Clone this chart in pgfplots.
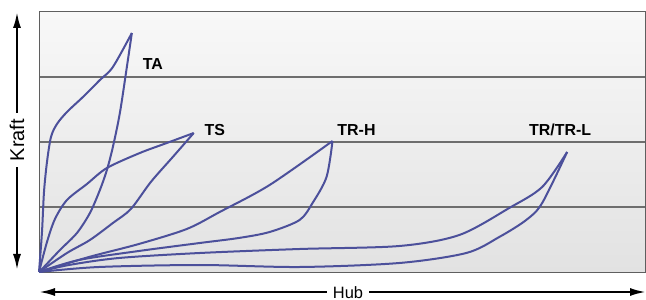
\documentclass[border=0pt]{standalone}
\usepackage{pgfplots}
\pgfplotsset{compat=1.18}
\usepackage{fontspec}
\setmainfont{Liberation Sans}
\usetikzlibrary{arrows.meta,calc}
\definecolor{curve}{RGB}{76,80,155}
\definecolor{gridc}{RGB}{110,110,110}
\definecolor{framec}{RGB}{95,95,95}
\tikzset{cv/.style={draw=curve, solid, line width=2bp, smooth, mark=none}}
\begin{document}
\begin{tikzpicture}
\begin{axis}[name=ax,
  scale only axis, width=606bp, height=260bp,
  xmin=0, xmax=607, ymin=0, ymax=260,
  axis line style={draw=framec, line width=1bp},
  xtick=\empty, ytick={65,130,195}, yticklabels={}, major tick length=0pt,
  ymajorgrids, grid style={draw=gridc, line width=1.2bp},
  axis background/.style={shade, top color={rgb,255:red,248;green,248;blue,248}, bottom color={rgb,255:red,226;green,226;blue,226}},
  clip=false,
]
% TA
\addplot[cv] coordinates {(0,0) (3,40) (5,80) (8,110) (12,135) (18,148) (28,160) (44,175) (61,192) (74,205) (93,239)};
\addplot[cv] coordinates {(0,0) (4,4) (21,22) (38,39) (51,59) (61,82) (68,102) (74,125) (81,159) (88,205) (93,239)};
% TS
\addplot[cv] coordinates {(0,0) (8,30) (16,53) (28,72) (48,88) (68,104) (101,119) (128,129) (155,139)};
\addplot[cv] coordinates {(0,0) (28,19) (51,32) (74,49) (92,63) (112,90) (134,115) (155,139)};
% TR-H
\addplot[cv] coordinates {(0,0) (50,15) (100,28) (148,43) (181,60) (231,87) (294,131)};
\addplot[cv] coordinates {(0,0) (40,12) (100,21) (161,29) (200,34) (231,40) (261,52) (274,69) (288,95) (294,131)};
% TR/TR-L
\addplot[cv] coordinates {(0,0) (30,7) (80,14) (161,19) (261,23) (361,26) (421,37) (471,64) (504,85) (529,120)};
\addplot[cv] coordinates {(0,0) (60,5) (161,7) (261,5) (361,9) (428,19) (461,35) (488,52) (504,69) (529,120)};
\node[font=\fontsize{16}{18}\selectfont\bfseries] at (axis cs:114,208) {TA};
\node[font=\fontsize{16}{18}\selectfont\bfseries] at (axis cs:176,142) {TS};
\node[font=\fontsize{16}{18}\selectfont\bfseries] at (axis cs:318,142) {TR-H};
\node[font=\fontsize{16}{18}\selectfont\bfseries] at (axis cs:522,142) {TR/TR-L};
\end{axis}
\draw[line width=2.2bp, {Latex[length=16bp,width=8bp]}-{Latex[length=16bp,width=8bp]}]
  ($(ax.south west)+(-22bp,2bp)$) -- ($(ax.north west)+(-22bp,0bp)$);
\node[rotate=90, fill=white, inner xsep=6bp, inner ysep=1bp, font=\fontsize{20}{22}\selectfont] at ($(ax.south west)+(-22bp,132bp)$) {Kraft};
\draw[line width=2.2bp, {Latex[length=16bp,width=8bp]}-{Latex[length=16bp,width=8bp]}]
  ($(ax.south west)+(0bp,-20bp)$) -- ($(ax.south east)+(1bp,-20bp)$);
\node[fill=white, inner xsep=6bp, inner ysep=0bp, text height=12bp, text depth=0bp, font=\fontsize{16.5}{19}\selectfont] at ($(ax.south west)+(309bp,-20bp)$) {Hub};
\pgfresetboundingbox
\useasboundingbox ($(ax.south west)+(-39bp,-28bp)$) rectangle ($(ax.north east)+(1bp,12bp)$);
\end{tikzpicture}
\end{document}
